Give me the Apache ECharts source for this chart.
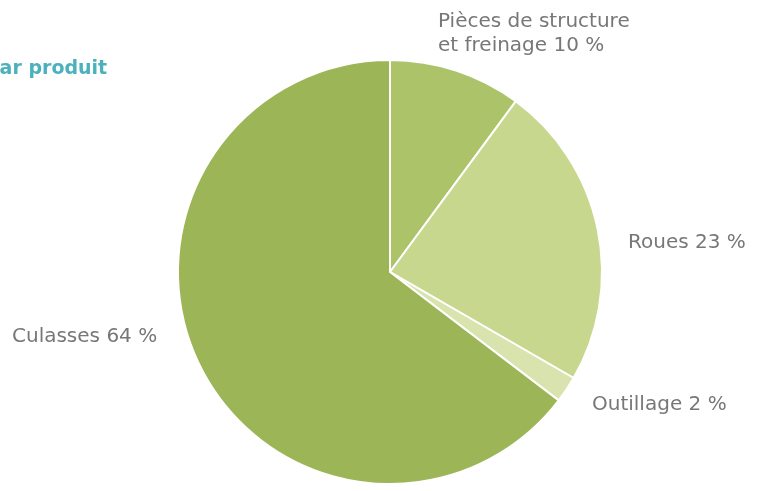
<!DOCTYPE html>
<html><head><meta charset="utf-8">
<script src="https://cdn.jsdelivr.net/npm/echarts@6/dist/echarts.min.js"></script>
<style>html,body{margin:0;padding:0;background:#fff}#c{width:763px;height:491px}</style>
</head><body><div id="c"></div>
<script>
const categories = ['Pièces de structure\net freinage', 'Roues', 'Outillage', 'Culasses'];
const values = [10, 23, 2, 64];
const colors = ['#adc36a', '#c8d78e', '#d8e3ae', '#9bb557'];
const labelPos = [[438, 34], [628, 243], [592, 405], [12, 337]];

const chart = echarts.init(document.getElementById('c'));
chart.setOption({
  animation: false,
  title: {
    text: 'par produit', left: -14, top: 60, padding: 0,
    textStyle: { color: '#4bb1bd', fontSize: 19, fontWeight: 'bold', fontFamily: 'DejaVu Sans' }
  },
  series: [{
    type: 'pie',
    center: [390, 272],
    radius: 212,
    startAngle: 90,
    clockwise: true,
    data: categories.map((c, i) => ({ name: c, value: values[i], itemStyle: { color: colors[i] } })),
    itemStyle: { borderColor: '#fff', borderWidth: 2 },
    label: {
      formatter: p => p.name + ' ' + p.value + ' %',
      color: '#777', fontSize: 20, fontFamily: 'DejaVu Sans', lineHeight: 24, align: 'left',
      overflow: 'none', width: 400
    },
    labelLine: { show: false },
    labelLayout: p => ({ x: labelPos[p.dataIndex][0], y: labelPos[p.dataIndex][1], align: 'left', verticalAlign: 'middle' })
  }]
});
</script></body></html>
